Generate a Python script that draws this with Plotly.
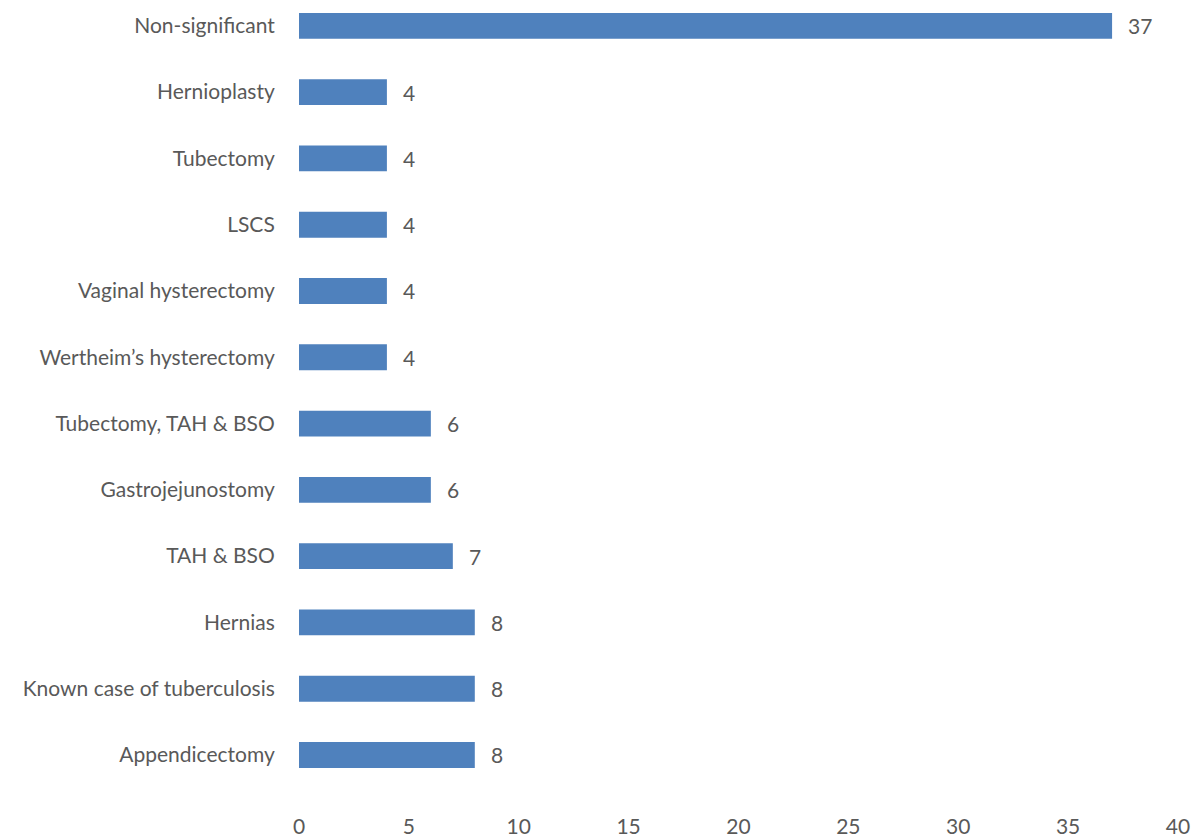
import plotly.graph_objects as go

categories = ["Appendicectomy", "Known case of tuberculosis", "Hernias", "TAH & BSO",
              "Gastrojejunostomy", "Tubectomy, TAH & BSO", "Wertheim\u2019s hysterectomy",
              "Vaginal hysterectomy", "LSCS", "Tubectomy", "Hernioplasty", "Non-significant"]
values = [8, 8, 8, 7, 6, 6, 4, 4, 4, 4, 4, 37]
x_ticks = [0, 5, 10, 15, 20, 25, 30, 35, 40]

FONT = "Lato"
TXT = "#595959"

fig = go.Figure(go.Bar(
    x=values, y=categories, orientation="h",
    marker=dict(color="#4F81BD", line=dict(width=0)),
    width=0.39, hoverinfo="skip",
))

for c, v in zip(categories, values):
    fig.add_annotation(x=v, y=c, text=str(v), showarrow=False, xanchor="left",
                       xshift=14, font=dict(family=FONT, size=21, color=TXT))

fig.update_layout(
    width=1194, height=838,
    margin=dict(l=299, r=16, t=0, b=26, autoexpand=False),
    paper_bgcolor="white", plot_bgcolor="white",
    showlegend=False,
    font=dict(family=FONT, size=21, color=TXT),
)
fig.update_xaxes(range=[0, 40], tickvals=x_ticks, showgrid=False, zeroline=False,
                 showline=False, ticks="", automargin=False,
                 tickfont=dict(family=FONT, size=21, color=TXT))
fig.update_yaxes(type="category", categoryorder="array", categoryarray=categories,
                 range=[-0.86, 11.39], showgrid=False, zeroline=False, showline=False,
                 ticks="outside", ticklen=19, tickcolor="rgba(0,0,0,0)", automargin=False,
                 tickfont=dict(family=FONT, size=21, color=TXT))

fig.write_html("out.html")
